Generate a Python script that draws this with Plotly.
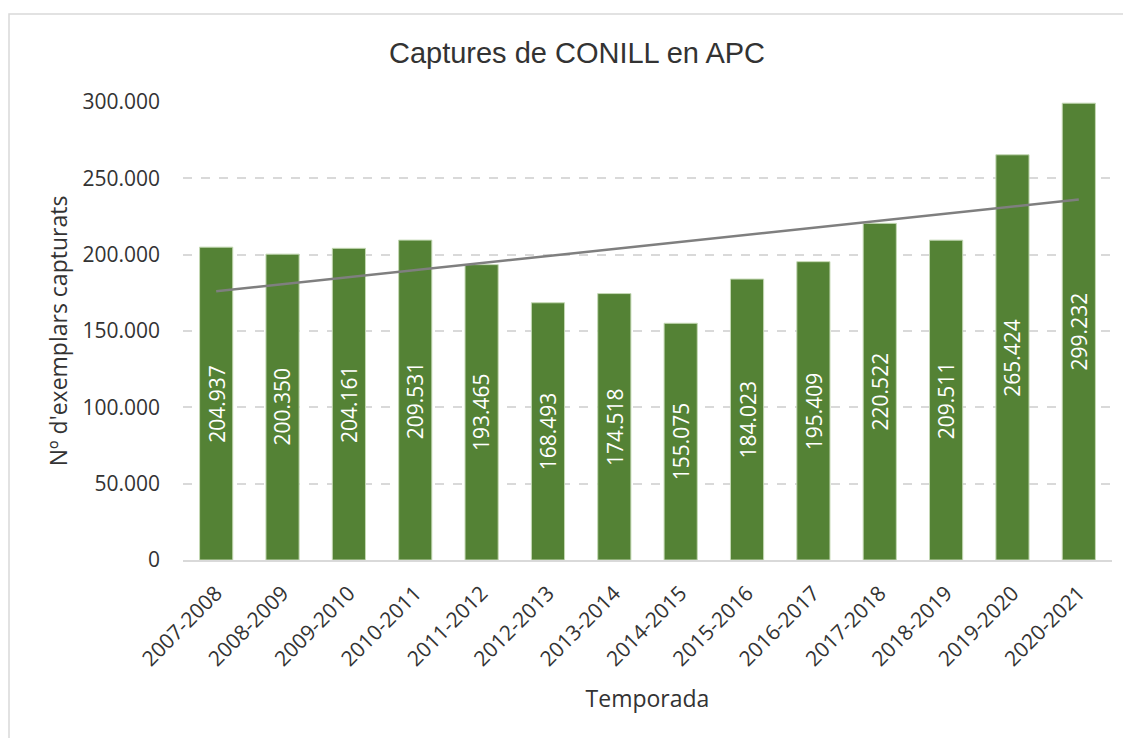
import numpy as np
import plotly.graph_objects as go

temporades = ["2007-2008", "2008-2009", "2009-2010", "2010-2011", "2011-2012", "2012-2013",
              "2013-2014", "2014-2015", "2015-2016", "2016-2017", "2017-2018", "2018-2019",
              "2019-2020", "2020-2021"]
captures = [204937, 200350, 204161, 209531, 193465, 168493, 174518, 155075, 184023,
            195409, 220522, 209511, 265424, 299232]
yticks = [0, 50000, 100000, 150000, 200000, 250000, 300000]
yticklabels = ["0", "50.000", "100.000", "150.000", "200.000", "250.000", "300.000"]

def fmt(v):
    return f"{v:,}".replace(",", ".")

idx = np.arange(len(captures))
coef = np.polyfit(idx, captures, 1)
trend = np.polyval(coef, idx)

W, H = 1123, 730
ML, MR, MT, MB = 175, 19, 94, 178
PW, PH = W - ML - MR, H - MT - MB

fig = go.Figure()
fig.add_trace(go.Bar(
    x=temporades, y=captures,
    marker=dict(color="#548235", line=dict(color="#c5d9b5", width=1)),
    showlegend=False,
))
fig.add_trace(go.Scatter(
    x=temporades, y=trend, mode="lines",
    line=dict(color="#7f7f7f", width=2.5), showlegend=False,
))

annotations = [
    dict(x=c, y=v / 2, xref="x", yref="y", text=fmt(v), showarrow=False, textangle=-90,
         font=dict(color="white", size=21, family="Open Sans, Lato"))
    for c, v in zip(temporades, captures)
]

fig.update_layout(
    width=W, height=H,
    paper_bgcolor="white", plot_bgcolor="white",
    margin=dict(l=ML, r=MR, t=MT, b=MB),
    bargap=0.5,
    annotations=annotations,
    title=dict(text="Captures de CONILL en APC", x=569 / W, xanchor="center",
               y=1 - 45 / H, yanchor="middle",
               font=dict(family="Liberation Sans, Arial", size=29, color="#333333")),
    xaxis=dict(
        tickangle=-45, tickfont=dict(family="Open Sans, Lato", size=21, color="#333333"),
        showline=True, linecolor="#d9d9d9", linewidth=1.5, showgrid=False, ticks="",
        ticklabelstandoff=11,
        title=dict(text="Temporada", font=dict(family="Open Sans, Lato", size=23, color="#333333"), standoff=20),
    ),
    yaxis=dict(
        range=[0, 300000], tickvals=yticks, ticktext=yticklabels,
        tickfont=dict(family="Open Sans, Lato", size=21, color="#333333"),
        showgrid=True, gridcolor="#d9d9d9", griddash="dash", gridwidth=1.5,
        zeroline=False, ticks="", ticklabelstandoff=22,
        title=dict(text="Nº d'exemplars capturats", font=dict(family="Open Sans, Lato", size=23, color="#333333"), standoff=8),
    ),
    shapes=[dict(type="rect", xref="paper", yref="paper",
                 x0=-(ML - 1) / PW, x1=1.2, y0=-1.0, y1=(H - 6 - MB) / PH,
                 line=dict(color="#d9d9d9", width=1.5), fillcolor="rgba(0,0,0,0)", layer="below")],
)

fig.write_html("out.html")
